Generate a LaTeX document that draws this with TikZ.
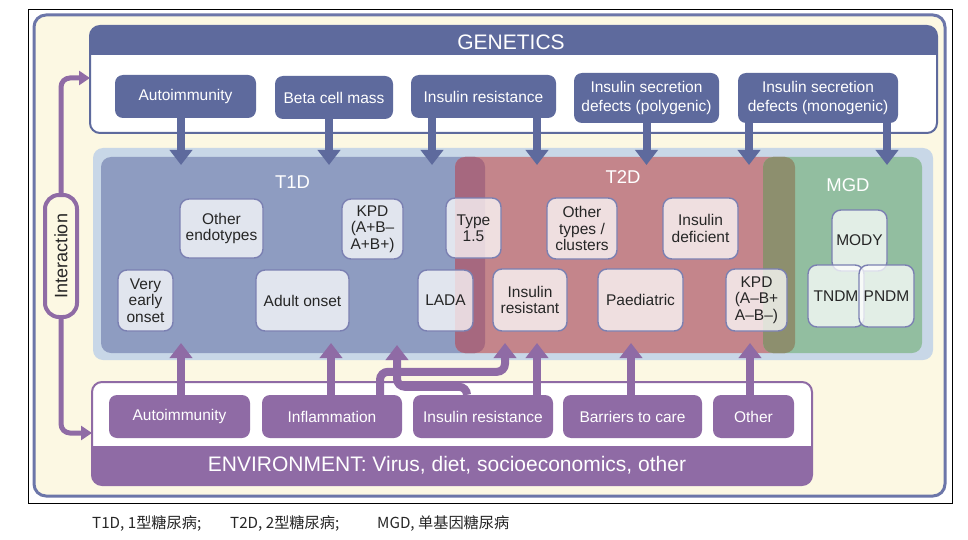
\documentclass[tikz,border=0pt]{standalone}
\usepackage{fontspec}
\setmainfont{Liberation Sans}
\newfontfamily\cjk{Noto Sans CJK SC}
\usetikzlibrary{arrows.meta,positioning}
\definecolor{genblue}{HTML}{5E6A9D}
\definecolor{envpurple}{HTML}{8F6BA5}
\definecolor{cream}{HTML}{FCF8E3}
\definecolor{framebl}{HTML}{6C76A9}
\definecolor{midblue}{HTML}{C8D7E7}
\definecolor{tonecol}{HTML}{8E9CC1}
\definecolor{ttwocol}{HTML}{C4858B}
\definecolor{mgdcol}{HTML}{92BEA0}
\definecolor{olapA}{HTML}{A6687F}
\definecolor{olapB}{HTML}{8D8F6E}
\definecolor{edgecol}{HTML}{7B80B2}
\newcommand{\fsz}[2]{\fontsize{#1}{#2}\selectfont}
\tikzset{
  gbox/.style={rectangle, rounded corners=8pt, fill=genblue, text=white, align=center,
               font=\fsz{15.5}{19.5}, inner sep=0pt},
  ebox/.style={rectangle, rounded corners=8pt, fill=envpurple, text=white, align=center,
               font=\fsz{15.5}{19}, inner sep=0pt, minimum height=43pt},
  inbox/.style={rectangle, rounded corners=9pt, draw=edgecol, line width=1.4pt, fill=white,
                fill opacity=0.74, text opacity=1, text=black!85, align=center,
                font=\fsz{15.5}{16.5}, inner sep=0pt},
  regl/.style={text=white, font=\fsz{18.5}{20}},
  keytxt/.style={anchor=base west, inner sep=0pt, font=\cjk\fsz{15.2}{17}, text=black!85},
  garr/.style={-{Triangle[width=22pt,length=15pt]}, line width=8pt, draw=genblue},
  earr/.style={-{Triangle[width=22pt,length=15pt]}, line width=8pt, draw=envpurple,
               rounded corners=8pt},
  iarr/.style={-{Triangle[width=14pt,length=11pt]}, line width=5pt, draw=envpurple,
               rounded corners=9pt},
}

\begin{document}
\begin{tikzpicture}[x=1pt, y=-1pt]
  \useasboundingbox[fill=white] (0,0) rectangle (968,540);
  \draw[black, line width=1pt] (28,10) rectangle (952,503);
  \draw[framebl, line width=3pt, fill=cream, rounded corners=12pt] (34,15) rectangle (945,496);

  % genetics frame
  \draw[genblue, line width=2pt, fill=white, rounded corners=10pt] (90,26) rectangle (937,133);
  \begin{scope}
    \clip (85,20) rectangle (942,55);
    \fill[genblue, rounded corners=10pt] (90,26) rectangle (937,133);
  \end{scope}
  \node[text=white, font=\fsz{21}{24}] (genT) at (511,42) {GENETICS};

  % middle block
  \fill[midblue, rounded corners=10pt] (93,148) rectangle (933,360);
  \fill[tonecol, rounded corners=10pt] (101,157) rectangle (485,353);
  \fill[ttwocol, rounded corners=10pt] (455,157) rectangle (795,353);
  \fill[mgdcol, rounded corners=10pt] (763,157) rectangle (922,353);
  \begin{scope}
    \clip[rounded corners=10pt] (101,157) rectangle (485,353);
    \fill[olapA, rounded corners=10pt] (455,157) rectangle (795,353);
  \end{scope}
  \begin{scope}
    \clip[rounded corners=10pt] (455,157) rectangle (795,353);
    \fill[olapB, rounded corners=10pt] (763,157) rectangle (922,353);
  \end{scope}
  \node[regl] (lT1) at (292.5,182) {T1D};
  \node[regl] (lT2) at (623,177) {T2D};
  \node[regl] (lMG) at (848,185) {MGD};

  % T1D
  \node[inbox, minimum width=83pt, minimum height=59pt] (tOther) at (221.5,228.5) {Other\\endotypes};
  \node[inbox, minimum width=61pt, minimum height=60pt] (tKPD) at (372.5,229) {KPD\\(A+B–\\A+B+)};
  \node[inbox, minimum width=55pt, minimum height=61pt] (tVery) at (145.5,300.5) {Very\\early\\onset};
  \node[inbox, minimum width=93pt, minimum height=61pt] (tAdult) at (302.5,300.5) {Adult onset};
  \node[inbox, minimum width=55pt, minimum height=61pt] (tLADA) at (445.5,300.5) {LADA};
  \node[inbox, minimum width=55pt, minimum height=60pt] (tType) at (473.5,228) {Type\\1.5};
  % T2D
  \node[inbox, minimum width=70pt, minimum height=61pt] (sOther) at (582,228.5) {Other\\types /\\clusters};
  \node[inbox, minimum width=75pt, minimum height=61pt] (sDef) at (700.5,228.5) {Insulin\\deficient};
  \node[inbox, minimum width=74pt, minimum height=62pt] (sRes) at (530,300) {Insulin\\resistant};
  \node[inbox, minimum width=85pt, minimum height=62pt] (sPaed) at (640.5,300) {Paediatric};
  \node[inbox, minimum width=61pt, minimum height=62pt] (sKPD) at (756.5,300) {KPD\\(A–B+\\A–B–)};
  % MGD
  \node[inbox, minimum width=55pt, minimum height=61pt] (mMODY) at (859.5,240.5) {MODY};
  \node[inbox, minimum width=56pt, minimum height=62pt] (mTNDM) at (836,296) {TNDM};
  \node[inbox, minimum width=55pt, minimum height=62pt] (mPNDM) at (886.5,296) {PNDM};

  % genetic factors
  \coordinate (gtip) at (0,165);
  \node[gbox, minimum width=141pt, minimum height=43pt] (gAuto) at (185.5,96.5) {Autoimmunity};
  \node[gbox, minimum width=118pt, minimum height=43pt] (gBeta) at (334,97.5) {Beta cell mass};
  \node[gbox, minimum width=145pt, minimum height=43pt] (gIR) at (483.5,96.5) {Insulin resistance};
  \node[gbox, minimum width=145pt, minimum height=50pt] (gPoly) at (646.5,98) {Insulin secretion\\defects (polygenic)};
  \node[gbox, minimum width=160pt, minimum height=50pt] (gMono) at (818,98) {Insulin secretion\\defects (monogenic)};
  \draw[garr] ([xshift=-4.5pt]gAuto.south) -- ([xshift=-4.5pt]gAuto.south |- gtip);
  \draw[garr] ([xshift=-5pt]gBeta.south) -- ([xshift=-5pt]gBeta.south |- gtip);
  \draw[garr] ([xshift=-51.5pt]gIR.south) -- ([xshift=-51.5pt]gIR.south |- gtip);
  \draw[garr] ([xshift=53.5pt]gIR.south) -- ([xshift=53.5pt]gIR.south |- gtip);
  \draw[garr] (gPoly.south) -- (gPoly.south |- gtip);
  \draw[garr] ([xshift=-69pt]gMono.south) -- ([xshift=-69pt]gMono.south |- gtip);
  \draw[garr] ([xshift=69pt]gMono.south) -- ([xshift=69pt]gMono.south |- gtip);

  % environment frame
  \draw[envpurple, line width=2pt, fill=white, rounded corners=10pt] (92,382) rectangle (812,485);
  \begin{scope}
    \clip (87,446) rectangle (817,490);
    \fill[envpurple, rounded corners=10pt] (92,382) rectangle (812,485);
  \end{scope}
  \node[text=white, font=\fsz{21}{24}] (envT) at (447,465) {ENVIRONMENT: Virus, diet, socioeconomics, other};

  % environmental factors
  \coordinate (etip) at (0,343);
  \coordinate (cA) at (505,343);
  \coordinate (cB) at (397,345);
  \node[ebox, minimum width=141pt] (eAuto) at (179.5,416.5) {Autoimmunity};
  \node[ebox, minimum width=140pt] (eInfl) at (332,416.5) {Inflammation};
  \node[ebox, minimum width=140pt] (eIR) at (483,416.5) {Insulin resistance};
  \node[ebox, minimum width=139pt] (eBar) at (632.5,416.5) {Barriers to care};
  \node[ebox, minimum width=81pt] (eOth) at (753.5,416.5) {Other};
  \draw[earr] ([xshift=1.5pt]eAuto.north) -- ([xshift=1.5pt]eAuto.north |- etip);
  \draw[earr] ([xshift=-1pt]eInfl.north) -- ([xshift=-1pt]eInfl.north |- etip);
  \draw[earr] ([xshift=48pt]eInfl.north) -- ++(0,-23) -| (cA);
  \draw[earr] ([xshift=-16pt]eIR.north) -- ++(0,-8) -| (cB);
  \draw[earr] ([xshift=54pt]eIR.north) -- ([xshift=54pt]eIR.north |- etip);
  \draw[earr] ([xshift=-1.5pt]eBar.north) -- ([xshift=-1.5pt]eBar.north |- etip);
  \draw[earr] ([xshift=-3.5pt]eOth.north) -- ([xshift=-3.5pt]eOth.north |- etip);

  % interaction
  \coordinate (genIn) at (90,78);
  \coordinate (envIn) at (92,433);
  \node[draw=envpurple, line width=4pt, fill=cream, rounded corners=14pt, rotate=90,
        minimum width=122pt, minimum height=32pt, inner sep=0pt, font=\fsz{18}{20},
        text=black!85] (inter) at (61,256) {Interaction};
  \draw[iarr] (inter.east) |- (genIn);
  \draw[iarr] (inter.west) |- (envIn);

  % key
  \node[keytxt] (keyA) at (92,528) {T1D, 1型糖尿病;};
  \node[keytxt] (keyB) at (230,528) {T2D, 2型糖尿病;};
  \node[keytxt] (keyC) at (377,528) {MGD, 单基因糖尿病};
\end{tikzpicture}
\end{document}
